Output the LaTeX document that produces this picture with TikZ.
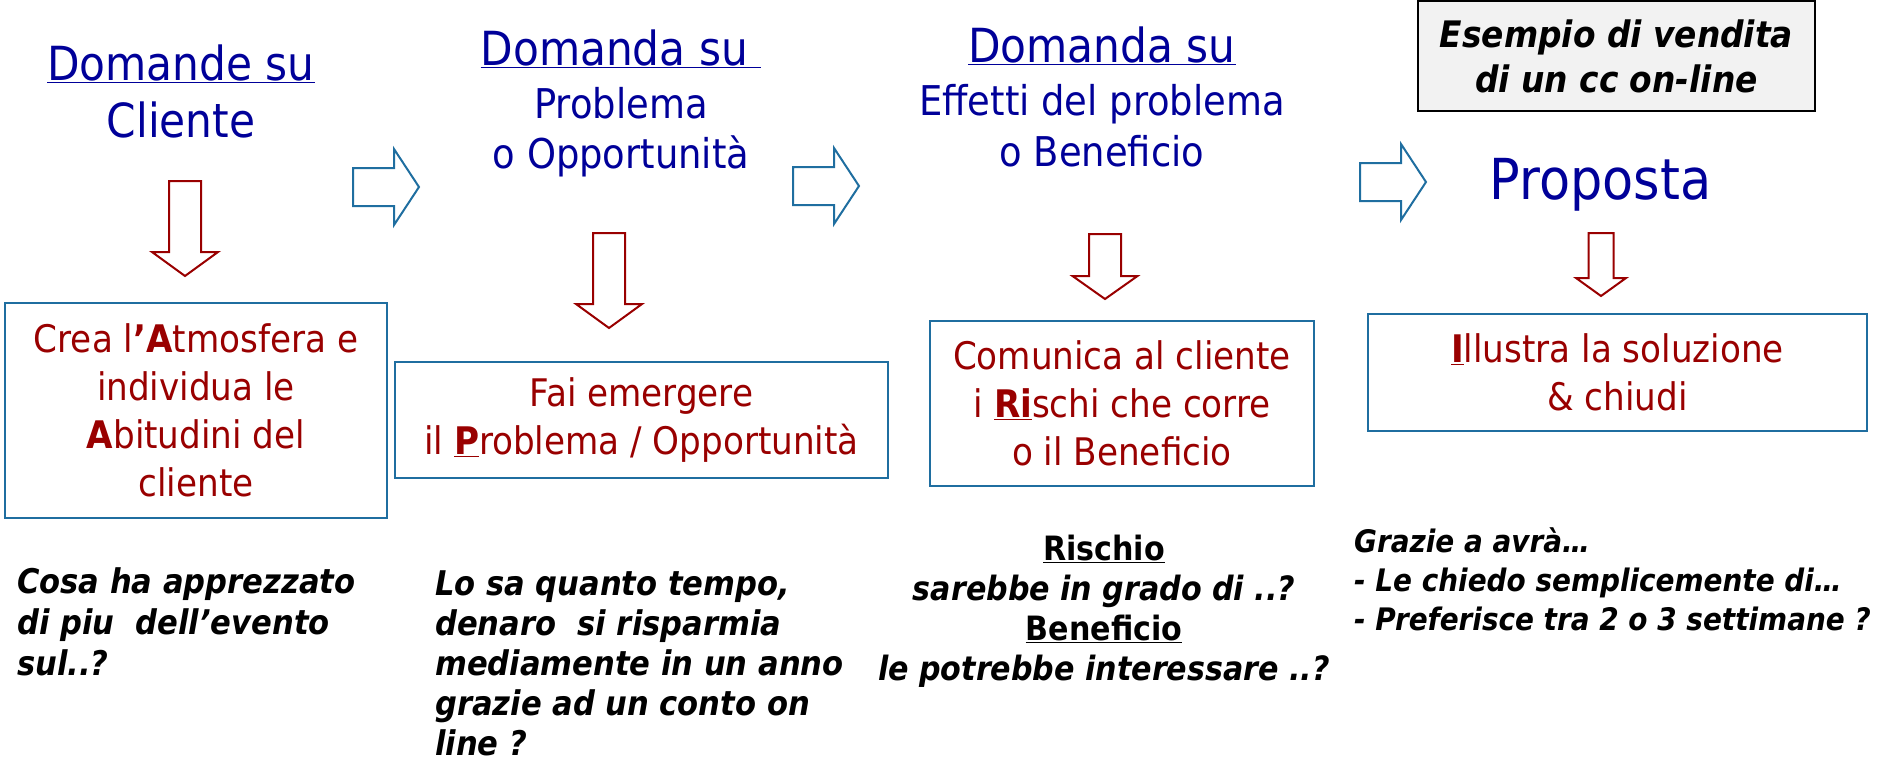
\documentclass[tikz,border=0pt]{standalone}
\usepackage{fontspec}
\setmainfont{DejaVu Sans Condensed}
\usetikzlibrary{positioning}

\definecolor{titleblue}{RGB}{0,0,153}
\definecolor{darkred}{RGB}{153,0,0}
\definecolor{boxblue}{RGB}{31,110,160}
\definecolor{notegray}{RGB}{242,242,242}

\tikzset{
  title/.style={anchor=base, text=titleblue, inner sep=0pt, font=\fontsize{47}{57}\selectfont},
  subtitle/.style={anchor=base, text=titleblue, inner sep=0pt, font=\fontsize{41}{50}\selectfont},
  stepbox/.style={draw=boxblue, line width=2pt, text=darkred, align=center, inner sep=0pt, font=\fontsize{38}{48}\selectfont},
  question/.style={inner sep=0pt, font=\fontsize{34}{41}\selectfont\bfseries\itshape},
  rarrow/.style={draw=boxblue, line width=2pt},
  darrow/.style={draw=darkred, line width=2pt},
}

% block arrows: start point, then sizes
\newcommand{\rightblock}[1]{%
  \draw[rarrow] (#1) ++(0,-19) -- ++(41,0) -- ++(0,-19) -- ++(25,38) -- ++(-25,38) -- ++(0,-19) -- ++(-41,0) -- cycle;}
\newcommand{\downblock}[5]{%
  \draw[darrow] (#1) ++(-#3,0) -- ++({2*#3},0) -- ++(0,#2) -- ++({#4-#3},0) -- ++(-#4,#5) -- ++(-#4,-#5) -- ++({#4-#3},0) -- cycle;}

\begin{document}
\begin{tikzpicture}[x=1pt,y=-1pt]
		\useasboundingbox (0,0) rectangle (1883,764);

		% Titles
		\node[title] (t1a) at (181,80) {\underline{Domande su}};
		\node[title] (t1b) at ([yshift=-57pt]t1a.base) {Cliente};

		\node[title] (t2a) at (621,65) {\underline{Domanda su\ }};
		\node[subtitle] (t2b) at ([yshift=-53pt]t2a.base) {Problema};
		\node[subtitle] (t2c) at ([yshift=-50pt]t2b.base) {o Opportunità};

		\node[title] (t3a) at (1102,62) {\underline{Domanda su}};
		\node[subtitle] (t3b) at ([yshift=-53pt]t3a.base) {Effetti del problema};
		\node[subtitle] (t3c) at ([yshift=-51pt]t3b.base) {o Beneficio};

		\node[title, font=\fontsize{56.5}{64}\selectfont] (t4) at (1600.5,199) {Proposta};

		% Example box
		\node[draw=black, line width=2.5pt, fill=notegray, minimum width=397, minimum height=110,
			align=center, inner sep=0pt, font=\fontsize{36.5}{45}\selectfont\bfseries\itshape]
			(ex) at (1616.5,56) {Esempio di vendita\\di un cc on-line};

		% Arrows between columns
		\coordinate (r1) at (353,187);
		\coordinate (r2) at (793,186);
		\coordinate (r3) at (1360,182);
		\rightblock{r1}
		\rightblock{r2}
		\rightblock{r3}

		% Arrows down to the steps
		\coordinate (d1) at (185,181);
		\coordinate (d2) at (609,233);
		\coordinate (d3) at (1105,234);
		\coordinate (d4) at (1601,233);
		\downblock{d1}{71}{16}{33}{24}
		\downblock{d2}{71}{16}{33}{24}
		\downblock{d3}{42}{16}{32.5}{23}
		\downblock{d4}{45}{12.5}{25}{18}

		% Steps
		\node[stepbox, minimum width=382, minimum height=215] (b1) at (196,410.5)
			{Crea l\textbf{’A}tmosfera e\\individua le\\\textbf{A}bitudini del\\cliente};
		\node[stepbox, minimum width=493, minimum height=116] (b2) at (641.5,420)
			{Fai emergere\\il \underline{\textbf{P}}roblema / Opportunità};
		\node[stepbox, minimum width=384, minimum height=165] (b3) at (1122,403.5)
			{Comunica al cliente\\i \underline{\textbf{Ri}}schi che corre\\o il Beneficio};
		\node[stepbox, minimum width=499, minimum height=117] (b4) at (1617.5,372.5)
			{\underline{\textbf{I}}llustra la soluzione\\\& chiudi};

		% Questions (base = last line)
		\node[question, anchor=base west, align=left] (q1) at (17,675)
			{Cosa ha apprezzato\\di piu\ \ dell’evento\\sul..?};
		\node[question, anchor=base west, align=left, font=\fontsize{34}{40}\selectfont\bfseries\itshape] (q2) at (435,755)
			{Lo sa quanto tempo,\\denaro\ \ si risparmia\\mediamente in un anno\\grazie ad un conto on\\line ?};
		\node[question, anchor=base, align=center, font=\fontsize{33.5}{40}\selectfont\bfseries\itshape] (q3) at (1104,680)
			{\underline{\upshape Rischio}\\sarebbe in grado di ..?\\\underline{\upshape Beneficio}\\le potrebbe interessare ..?};
		\node[question, anchor=base west, align=left, font=\fontsize{31}{39}\selectfont\bfseries\itshape] (q4) at (1354,630)
			{Grazie a avrà…\\- Le chiedo semplicemente di…\\- Preferisce tra 2 o 3 settimane ?};
\end{tikzpicture}
\end{document}
